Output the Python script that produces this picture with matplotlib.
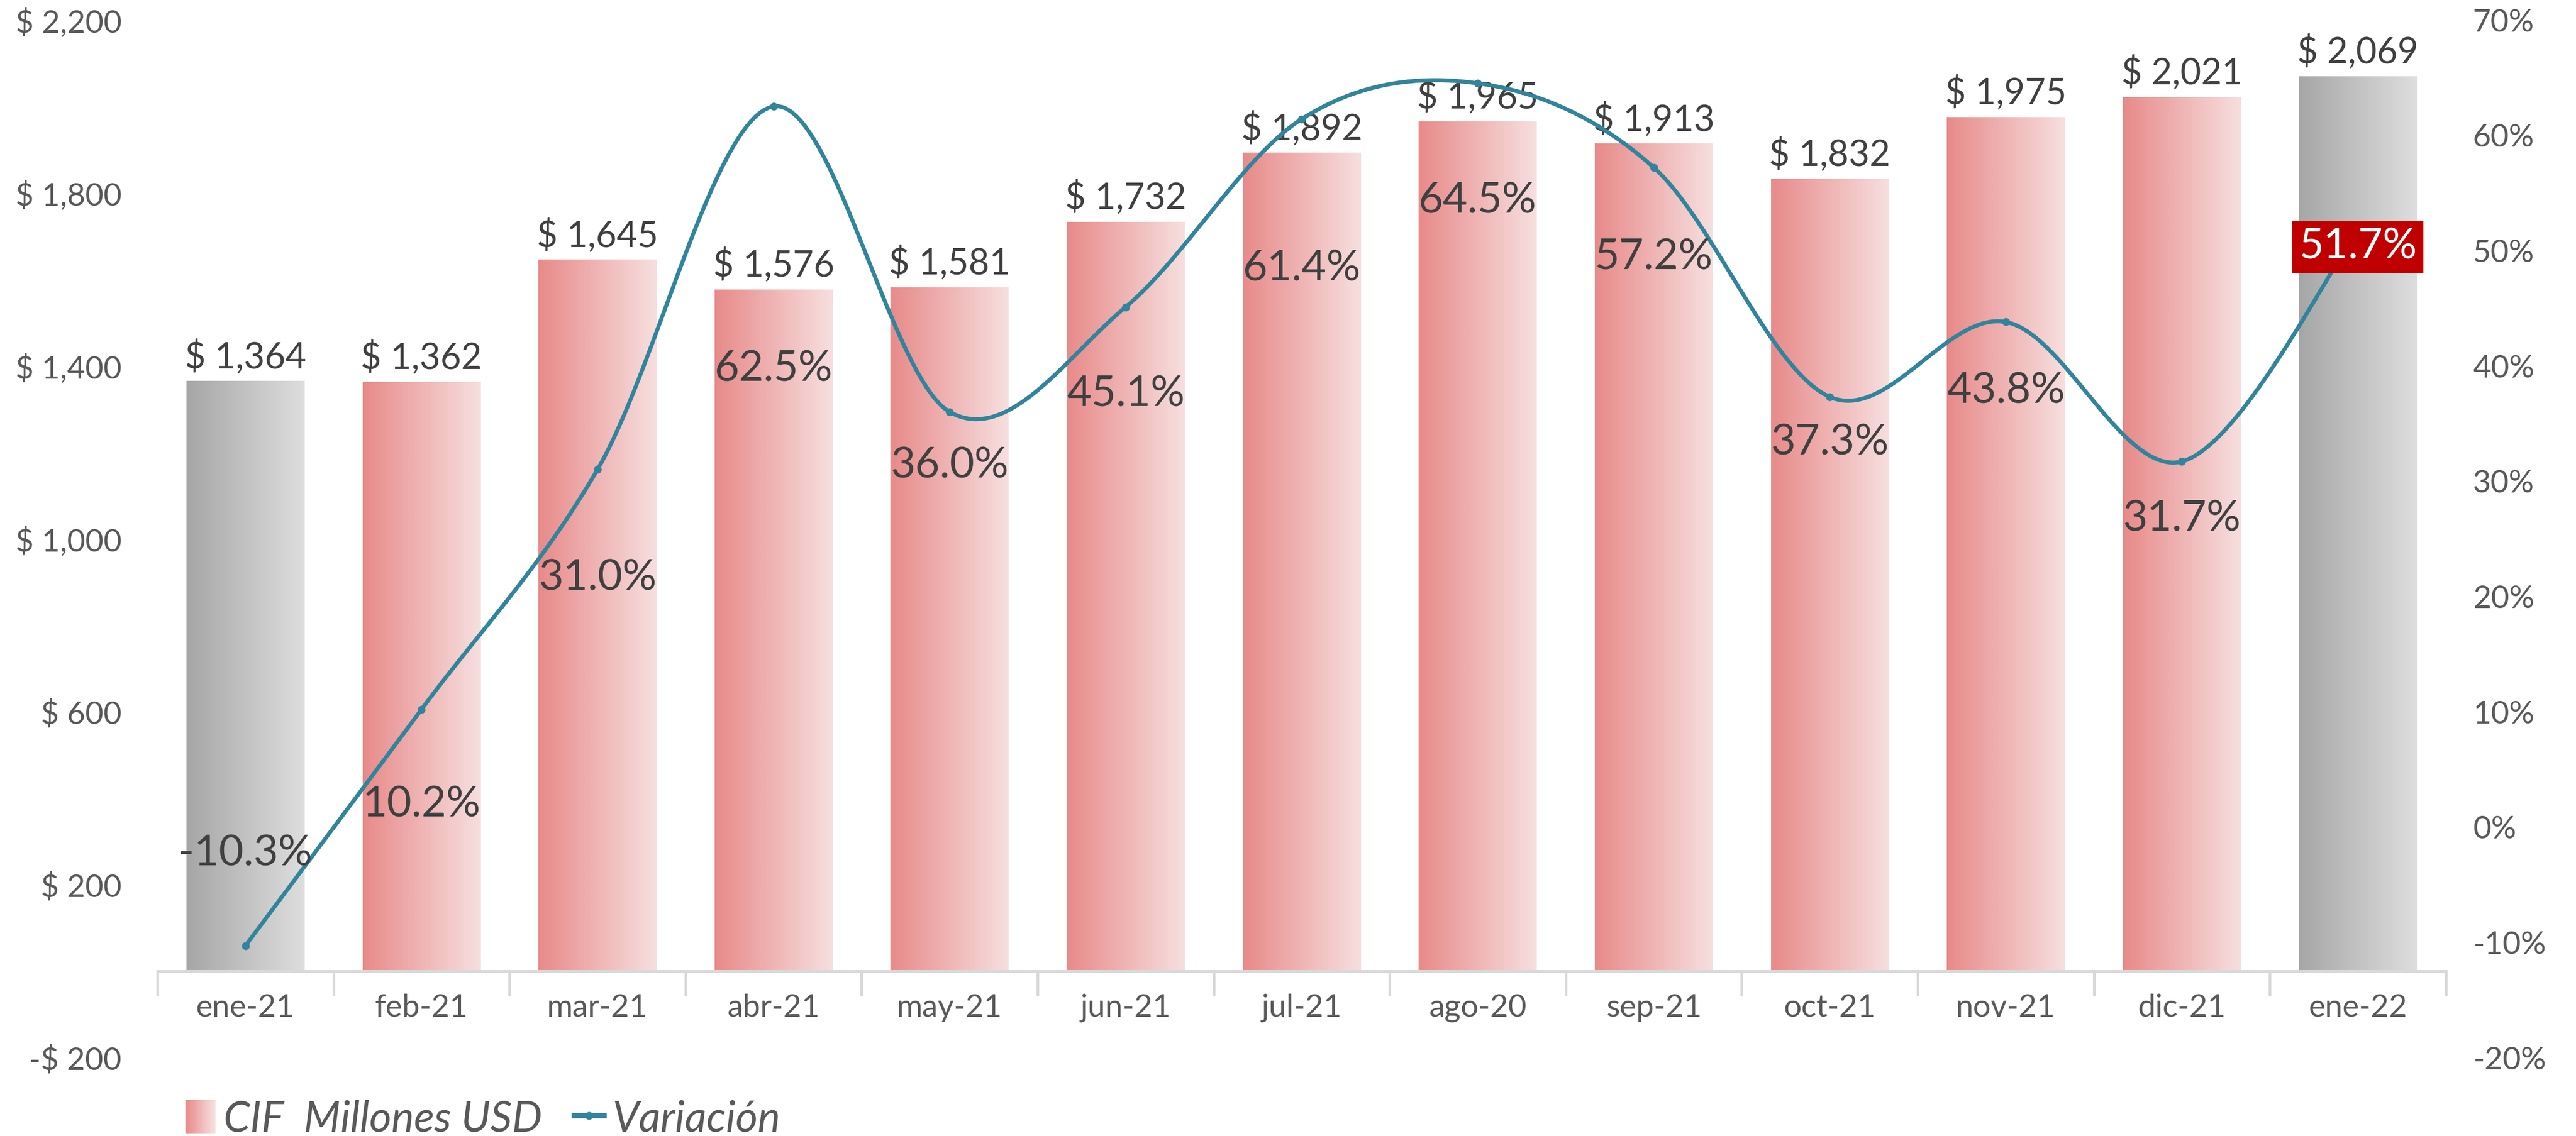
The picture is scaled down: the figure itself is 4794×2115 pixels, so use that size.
import matplotlib
matplotlib.use('Agg')
import matplotlib.pyplot as plt
import numpy as np
from matplotlib.patches import Rectangle
from matplotlib.lines import Line2D
from matplotlib.legend_handler import HandlerBase
from matplotlib.colors import LinearSegmentedColormap

# Datos del gráfico
meses = ['ene-21', 'feb-21', 'mar-21', 'abr-21', 'may-21', 'jun-21', 'jul-21',
         'ago-20', 'sep-21', 'oct-21', 'nov-21', 'dic-21', 'ene-22']
cif = [1364, 1362, 1645, 1576, 1581, 1732, 1892, 1965, 1913, 1832, 1975, 2021, 2069]
variacion = [-10.3, 10.2, 31.0, 62.5, 36.0, 45.1, 61.4, 64.5, 57.2, 37.3, 43.8, 31.7, 51.7]

# altura (eje derecho, en %) donde va cada etiqueta de variación
pos_etiqueta = [-2.3, 1.9, 21.6, 39.7, 31.3, 37.5, 48.4, 54.3, 49.4, 33.3, 37.8, 26.7, 50.3]

plt.rcParams['font.family'] = ['Lato', 'DejaVu Sans']

rojo = LinearSegmentedColormap.from_list('rojo', ['#E88A8A', '#F7DFDF'])
gris = LinearSegmentedColormap.from_list('gris', ['#A6A6A6', '#DEDEDE'])
teal = '#31849B'
txt = '#404040'
eje = '#595959'


def curva_suave(xs, ys, n=40):
    # suavizado tipo Excel: bezier con puntos de control a 1/6 de los vecinos
    p = np.column_stack([xs, ys]).astype(float)
    ext = np.vstack([p[0], p, p[-1]])
    t = np.linspace(0, 1, n)[:, None]
    out = []
    for i in range(len(p) - 1):
        p0, p1, p2, p3 = ext[i], ext[i + 1], ext[i + 2], ext[i + 3]
        c1 = p1 + (p2 - p0) / 6
        c2 = p2 - (p3 - p1) / 6
        out.append((1 - t) ** 3 * p1 + 3 * (1 - t) ** 2 * t * c1
                   + 3 * (1 - t) * t ** 2 * c2 + t ** 3 * p2)
    return np.vstack(out)


class HandlerGradiente(HandlerBase):
    def create_artists(self, legend, orig_handle, xdescent, ydescent,
                       width, height, fontsize, trans):
        n = 30
        arts = []
        for k in range(n):
            arts.append(Rectangle((-xdescent + width * k / n, -ydescent),
                                  width / n * 1.05, height,
                                  facecolor=rojo(k / (n - 1)), edgecolor='none',
                                  transform=trans))
        return arts


fig = plt.figure(figsize=(4794 / 300, 2115 / 300), dpi=300)
ax = fig.add_axes([0.0611, 0.069, 0.8884, 0.9135])

x = np.arange(len(meses))
barras = ax.bar(x, cif, width=0.67, color='none', edgecolor='none')
grad = np.linspace(0, 1, 256).reshape(1, -1)
for i, b in enumerate(barras):
    cmap = gris if i in (0, len(meses) - 1) else rojo
    ax.imshow(grad, cmap=cmap, aspect='auto', zorder=1,
              extent=[b.get_x(), b.get_x() + b.get_width(), 0, b.get_height()])
    ax.annotate(f'$ {cif[i]:,}', (b.get_x() + b.get_width() / 2, b.get_height()),
                xytext=(0, 3), textcoords='offset points', ha='center', va='bottom',
                fontsize=16, color=txt)

ax.set_xlim(-0.5, len(meses) - 0.5)
ax.set_ylim(-200, 2200)

for s in ['top', 'left', 'right']:
    ax.spines[s].set_visible(False)
ax.spines['bottom'].set_position(('data', 0))
ax.spines['bottom'].set_color('#D9D9D9')
ax.spines['bottom'].set_linewidth(1.2)

ax.set_xticks(x)
ax.set_xticklabels(meses)
ax.set_xticks(np.arange(-0.5, len(meses), 1), minor=True)
ax.tick_params(axis='x', which='major', length=0, pad=10, labelsize=14, labelcolor=eje)
ax.tick_params(axis='x', which='minor', length=11, width=1.2, color='#D9D9D9')

yt = np.arange(-200, 2201, 400)
ax.set_yticks(yt)
ax.set_yticklabels([f'$ {v:,}' if v >= 0 else f'-$ {-v:,}' for v in yt])
ax.tick_params(axis='y', length=0, pad=16, labelsize=14, labelcolor=eje)

# linea de variación en eje secundario
ax2 = ax.twinx()
for s in ax2.spines.values():
    s.set_visible(False)
ax2.set_ylim(-20, 70)
pt = np.arange(-20, 71, 10)
ax2.set_yticks(pt)
ax2.set_yticklabels([f'{v}%' for v in pt])
ax2.tick_params(axis='y', length=0, pad=12, labelsize=14, labelcolor=eje)

cs = curva_suave(x, variacion)
ax2.plot(cs[:, 0], cs[:, 1], color=teal, lw=1.8, solid_capstyle='round')
ax2.plot(x, variacion, 'o', color=teal, markersize=2.5)

for i, v in enumerate(variacion):
    if i == len(variacion) - 1:
        ax2.text(x[i], pos_etiqueta[i], f'{v:.1f}%', ha='center', va='center',
                 fontsize=19, color='white',
                 bbox=dict(boxstyle='square,pad=0.15', facecolor='#C00000', edgecolor='none'))
    else:
        ax2.text(x[i], pos_etiqueta[i], f'{v:.1f}%', ha='center', va='center',
                 fontsize=19, color=txt)

proxy_bar = Rectangle((0, 0), 1, 1)
proxy_lin = Line2D([], [], color=teal, lw=2.5, marker='o', markersize=2.5)
fig.legend([proxy_bar, proxy_lin], ['CIF  Millones USD', 'Variación'],
           handler_map={proxy_bar: HandlerGradiente()},
           loc='center left', bbox_to_anchor=(0.072, 0.0145), frameon=False, ncol=2,
           prop={'style': 'italic', 'size': 19}, labelcolor=eje,
           handlelength=0.7, handleheight=0.85, handletextpad=0.2,
           columnspacing=0.75, borderpad=0, borderaxespad=0)

fig.savefig('out.png', dpi=300)
